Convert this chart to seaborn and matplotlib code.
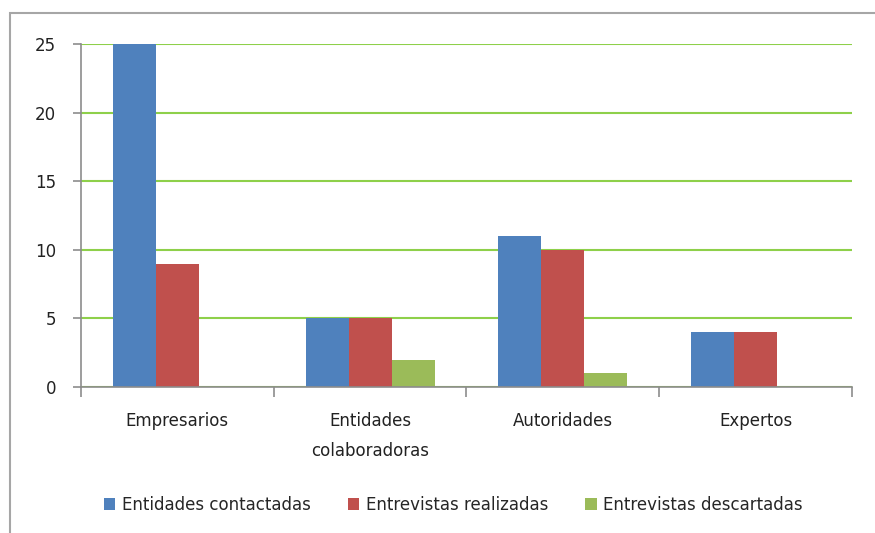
import pandas as pd
import matplotlib.pyplot as plt
import seaborn as sns
from matplotlib.patches import Rectangle

categorias = ['Empresarios', 'Entidades\ncolaboradoras', 'Autoridades', 'Expertos']
contactadas = [25, 5, 11, 4]
realizadas = [9, 5, 10, 4]
descartadas = [0, 2, 1, 0]
series = ['Entidades contactadas', 'Entrevistas realizadas', 'Entrevistas descartadas']
colores = ['#4F81BD', '#C0504D', '#9BBB59']

df = pd.DataFrame({
    'Categoria': categorias * 3,
    'Serie': [series[0]] * 4 + [series[1]] * 4 + [series[2]] * 4,
    'Valor': contactadas + realizadas + descartadas,
})

sns.set_style('white')
plt.rcParams['font.family'] = ['DejaVu Sans']

fig = plt.figure(figsize=(8.75, 5.33), dpi=100)
ax = fig.add_axes([81 / 875, 1 - 387 / 533, (852 - 81) / 875, (387 - 44) / 533])

sns.barplot(data=df, x='Categoria', y='Valor', hue='Serie', palette=colores,
            width=0.67, linewidth=0, saturation=1, ax=ax, legend=True)

ax.set_ylim(0, 25)
ax.set_xlim(-0.5, 3.5)
ax.set_yticks([0, 5, 10, 15, 20, 25])
ax.yaxis.grid(True, color='#8ED04A', linewidth=1.5)
ax.set_axisbelow(True)
ax.set_xlabel('')
ax.set_ylabel('')
for s in ['top', 'right']:
    ax.spines[s].set_visible(False)
for s in ['left', 'bottom']:
    ax.spines[s].set_color('#8C8C8C')
    ax.spines[s].set_linewidth(1.2)

ax.set_xticks([-0.5, 0.5, 1.5, 2.5, 3.5], minor=True)
ax.tick_params(axis='x', which='major', length=0, pad=18, labelsize=12, colors='#222222')
ax.tick_params(axis='x', which='minor', bottom=True, length=7, color='#8C8C8C', width=1.2)
ax.tick_params(axis='y', length=6, color='#8C8C8C', width=1.2, labelsize=12,
               colors='#222222', left=True, pad=12)
for lbl in ax.get_xticklabels():
    lbl.set_linespacing(1.85)

handles, labels = ax.get_legend_handles_labels()
ax.get_legend().remove()
fig.legend(handles, labels, loc='center', bbox_to_anchor=(0.518, 1 - 505 / 533),
           ncol=3, frameon=False, fontsize=12, handlelength=0.7, handleheight=0.7,
           handletextpad=0.4, columnspacing=2.2)

fig.patches.append(Rectangle((10 / 875, -0.1), 1.2, 1.1 - 13 / 533,
                             transform=fig.transFigure, fill=False,
                             edgecolor='#A6A6A6', linewidth=1.5))

fig.savefig('out.png', dpi=100)
